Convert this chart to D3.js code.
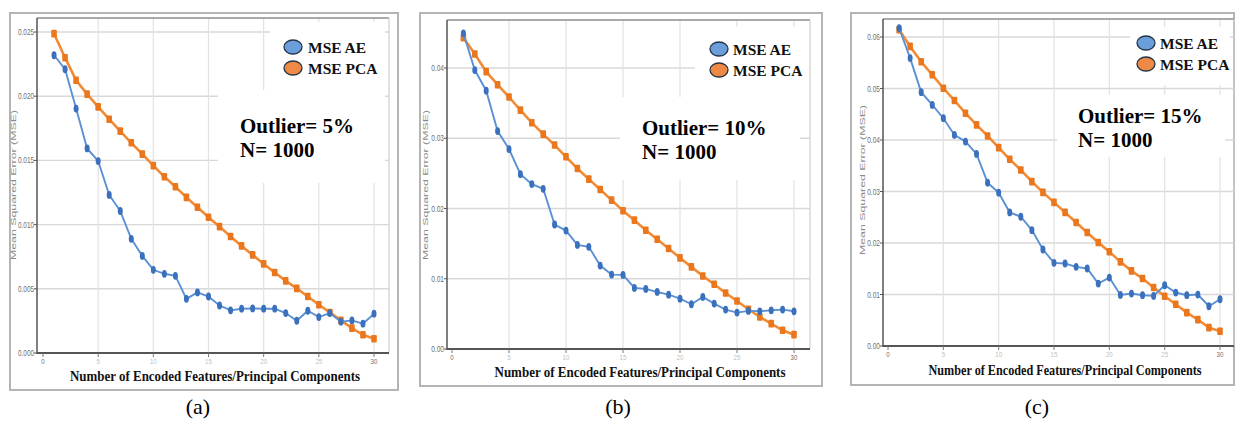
<!DOCTYPE html>
<html lang="en">
<head>
<meta charset="UTF-8">
<title>MSE AE vs MSE PCA</title>
<style>
    body { margin: 0; padding: 0; background: #fff; }
    svg { display: block; }
    .tick-label { font-family: "Liberation Sans", Arial, sans-serif; font-size: 9px; fill: #6f6f6f; }
    .x-tick-label { font-family: "Liberation Sans", Arial, sans-serif; font-size: 8px; }
    .y-title { font-family: "Liberation Sans", Arial, sans-serif; font-size: 8px; fill: #8a8a8a; }
    .x-title { font-family: "Liberation Serif", "Times New Roman", serif; font-weight: bold; font-size: 13px; fill: #111; }
    .legend-text { font-family: "Liberation Serif", "Times New Roman", serif; font-weight: bold; font-size: 15.5px; fill: #111; }
    .note { font-family: "Liberation Serif", "Times New Roman", serif; font-weight: bold; font-size: 21px; fill: #000; }
    .caption { font-family: "Liberation Serif", "Times New Roman", serif; font-size: 22px; fill: #000; }
</style>
</head>
<body>
<svg id="chart" width="1236" height="421"></svg>
<script src="https://d3js.org/d3.v7.min.js"></script>
<script>
// number of encoded features / principal components
var components = [1, 2, 3, 4, 5, 6, 7, 8, 9, 10, 11, 12, 13, 14, 15,
                  16, 17, 18, 19, 20, 21, 22, 23, 24, 25, 26, 27, 28, 29, 30];
var xTicks = [0, 5, 10, 15, 20, 25, 30];

// (a) outlier 5%
var aeA = [0.02319, 0.02210, 0.01904, 0.01593, 0.01495, 0.01231, 0.01106, 0.00889, 0.00756, 0.00648,
           0.00617, 0.00601, 0.00422, 0.00472, 0.00440, 0.00370, 0.00332, 0.00345, 0.00347, 0.00345,
           0.00345, 0.00311, 0.00251, 0.00329, 0.00280, 0.00311, 0.00244, 0.00254, 0.00228, 0.00306];
var pcaA = [0.02487, 0.02300, 0.02124, 0.02016, 0.01917, 0.01821, 0.01728, 0.01637, 0.01549, 0.01459,
            0.01373, 0.01295, 0.01212, 0.01135, 0.01057, 0.00984, 0.00907, 0.00834, 0.00764, 0.00694,
            0.00627, 0.00562, 0.00503, 0.00440, 0.00376, 0.00316, 0.00254, 0.00194, 0.00142, 0.00111];
var yTicksA = [0, 0.005, 0.010, 0.015, 0.020, 0.025];
var yLabelsA = ["0.000", "0.005", "0.010", "0.015", "0.020", "0.025"];

// (b) outlier 10%
var aeB = [0.04494, 0.03971, 0.03677, 0.03102, 0.02846, 0.02489, 0.02347, 0.02280, 0.01772, 0.01686,
           0.01482, 0.01454, 0.01188, 0.01059, 0.01055, 0.00869, 0.00855, 0.00812, 0.00774, 0.00717,
           0.00637, 0.00741, 0.00646, 0.00561, 0.00518, 0.00542, 0.00537, 0.00551, 0.00561, 0.00537];
var pcaB = [0.04432, 0.04200, 0.03948, 0.03762, 0.03587, 0.03401, 0.03221, 0.03059, 0.02903, 0.02736,
            0.02570, 0.02418, 0.02271, 0.02119, 0.01967, 0.01834, 0.01691, 0.01563, 0.01430, 0.01297,
            0.01169, 0.01040, 0.00922, 0.00798, 0.00684, 0.00565, 0.00456, 0.00361, 0.00266, 0.00204];
var yTicksB = [0, 0.01, 0.02, 0.03, 0.04];
var yLabelsB = ["0.00", "0.01", "0.02", "0.03", "0.04"];

// (c) outlier 15%
var aeC = [0.06174, 0.05590, 0.04929, 0.04682, 0.04423, 0.04099, 0.03969, 0.03729, 0.03171, 0.02977,
           0.02594, 0.02510, 0.02250, 0.01874, 0.01615, 0.01602, 0.01537, 0.01505, 0.01213, 0.01329,
           0.00992, 0.01018, 0.00986, 0.00973, 0.01180, 0.01038, 0.00986, 0.00999, 0.00772, 0.00908];
var pcaC = [0.06141, 0.05817, 0.05519, 0.05266, 0.05006, 0.04767, 0.04520, 0.04293, 0.04079, 0.03852,
            0.03625, 0.03418, 0.03191, 0.02983, 0.02789, 0.02594, 0.02399, 0.02205, 0.02010, 0.01829,
            0.01634, 0.01459, 0.01310, 0.01135, 0.00966, 0.00811, 0.00649, 0.00512, 0.00357, 0.00285];
var yTicksC = [0, 0.01, 0.02, 0.03, 0.04, 0.05, 0.06];
var yLabelsC = ["0.00", "0.01", "0.02", "0.03", "0.04", "0.05", "0.06"];

var seriesNames = ["MSE AE", "MSE PCA"];
var notes = ["Outlier= 5%", "Outlier= 10%", "Outlier= 15%"];
var captions = ["(a)", "(b)", "(c)"];

var blueLine = "#5b91d4", blueMark = "#3a70bc", blueFill = "#6b9fdb";
var orangeLine = "#f28b34", orangeMark = "#ea771e", orangeFill = "#ee8a45";

// layout of each sub-figure (pixels)
var panels = [
    { ae: aeA, pca: pcaA, yTicks: yTicksA, yLabels: yLabelsA, yMax: 0.025, note: notes[0], caption: captions[0],
      frame: [10, 13, 398, 390], plot: [37, 18, 389, 353], xr: [43, 374], yr: [353, 32],
      yTitleX: 13, yTitleY: 185, tickLabelY: 364, xTitle: [215, 381, 290],
      legend: [293, 47, 308], noteXY: [240, 133], capX: 198,
      boxes: [[270, 22, 115, 68], [218, 90, 167, 93]] },
    { ae: aeB, pca: pcaB, yTicks: yTicksB, yLabels: yLabelsB, yMax: 0.04, note: notes[1], caption: captions[1],
      frame: [420, 13, 822, 386], plot: [447, 20, 810, 349], xr: [452, 794], yr: [349, 68],
      yTitleX: 425, yTitleY: 185, tickLabelY: 360, xTitle: [640, 377, 291],
      legend: [719, 49, 733], noteXY: [642, 135], capX: 618,
      boxes: [[695, 27, 114, 70], [620, 97, 180, 83]] },
    { ae: aeC, pca: pcaC, yTicks: yTicksC, yLabels: yLabelsC, yMax: 0.06, note: notes[2], caption: captions[2],
      frame: [851, 13, 1234, 385], plot: [883, 19, 1234, 346], xr: [888, 1220], yr: [346, 37],
      yTitleX: 862, yTitleY: 180, tickLabelY: 357, xTitle: [1065, 375, 273],
      legend: [1146, 43, 1160], noteXY: [1078, 123], capX: 1037,
      boxes: [[1130, 27, 100, 58], [1057, 95, 168, 62]] }
];

var svg = d3.select("#chart");

panels.forEach(function (p) {
    var g = svg.append("g");
    var x = d3.scaleLinear().domain([0, 30]).range(p.xr);
    var y = d3.scaleLinear().domain([0, p.yMax]).range(p.yr);
    var L = p.plot[0], T = p.plot[1], R = p.plot[2], B = p.plot[3];

    // outer frame
    g.append("rect")
        .attr("x", p.frame[0]).attr("y", p.frame[1])
        .attr("width", p.frame[2] - p.frame[0]).attr("height", p.frame[3] - p.frame[1])
        .attr("fill", "#fff").attr("stroke", "#b4b4b4").attr("stroke-width", 2);

    // grid
    g.selectAll(".hgrid").data(p.yTicks.slice(1)).enter().append("line")
        .attr("x1", L).attr("x2", R)
        .attr("y1", function (d) { return y(d); }).attr("y2", function (d) { return y(d); })
        .attr("stroke", "#d8d8d8").attr("stroke-width", 1.4);
    g.selectAll(".vgrid").data(xTicks.slice(1)).enter().append("line")
        .attr("y1", T).attr("y2", B)
        .attr("x1", function (d) { return x(d); }).attr("x2", function (d) { return x(d); })
        .attr("stroke", "#e2e2e2").attr("stroke-width", 1.2);

    // plot border top / right
    g.append("line").attr("x1", L).attr("x2", R).attr("y1", T).attr("y2", T)
        .attr("stroke", "#8c8c8c").attr("stroke-width", 1.5);
    g.append("line").attr("x1", R).attr("x2", R).attr("y1", T).attr("y2", B)
        .attr("stroke", "#cfcfcf").attr("stroke-width", 1.2);

    // white boxes behind legend and note
    p.boxes.forEach(function (b) {
        g.append("rect").attr("x", b[0]).attr("y", b[1]).attr("width", b[2]).attr("height", b[3])
            .attr("fill", "#fff");
    });

    // axes
    g.append("line").attr("x1", L).attr("x2", L).attr("y1", T).attr("y2", B + 1)
        .attr("stroke", "#555").attr("stroke-width", 1.5);
    g.append("line").attr("x1", L).attr("x2", R).attr("y1", B).attr("y2", B)
        .attr("stroke", "#555").attr("stroke-width", 1.8);

    g.selectAll(".ytick").data(p.yTicks).enter().append("line")
        .attr("x1", L - 3).attr("x2", L)
        .attr("y1", function (d) { return y(d); }).attr("y2", function (d) { return y(d); })
        .attr("stroke", "#555");
    g.selectAll(".ylab").data(p.yTicks).enter().append("text")
        .attr("class", "tick-label")
        .attr("x", L - 3).attr("y", function (d) { return y(d) + 3; })
        .attr("text-anchor", "end")
        .attr("textLength", function (d, i) { return p.yLabels[i].length * 3.2; })
        .attr("lengthAdjust", "spacingAndGlyphs")
        .text(function (d, i) { return p.yLabels[i]; });

    g.selectAll(".xtick").data(xTicks).enter().append("line")
        .attr("x1", function (d) { return x(d); }).attr("x2", function (d) { return x(d); })
        .attr("y1", B).attr("y2", B + 4)
        .attr("stroke", "#777");
    g.selectAll(".xlab").data(xTicks).enter().append("text")
        .attr("class", "x-tick-label")
        .attr("x", function (d) { return x(d); }).attr("y", p.tickLabelY)
        .attr("text-anchor", "middle")
        .style("fill", function (d) { return (d === 0 || d === 30) ? "#6f6f6f" : "#c0c0c0"; })
        .attr("textLength", function (d) { return String(d).length * 3.4; })
        .attr("lengthAdjust", "spacingAndGlyphs")
        .text(function (d) { return d; });

    // axis titles
    g.append("text").attr("class", "y-title")
        .attr("transform", "translate(" + p.yTitleX + "," + p.yTitleY + ") rotate(-90)")
        .attr("text-anchor", "middle").attr("dy", "0.35em")
        .attr("textLength", 150).attr("lengthAdjust", "spacingAndGlyphs")
        .text("Mean Squared Error (MSE)");
    g.append("text").attr("class", "x-title")
        .attr("transform", "translate(" + p.xTitle[0] + "," + p.xTitle[1] + ") scale(1,1.2)")
        .attr("text-anchor", "middle")
        .attr("textLength", p.xTitle[2]).attr("lengthAdjust", "spacingAndGlyphs")
        .text("Number of Encoded Features/Principal Components");

    // series
    var line = d3.line()
        .x(function (d, i) { return x(components[i]); })
        .y(function (d) { return y(d); });

    g.append("path").datum(p.pca).attr("d", line)
        .attr("fill", "none").attr("stroke", orangeLine).attr("stroke-width", 2.6);
    g.selectAll(".pca-pt").data(p.pca).enter().append("rect")
        .attr("x", function (d, i) { return x(components[i]) - 2.8; })
        .attr("y", function (d) { return y(d) - 3.8; })
        .attr("width", 5.6).attr("height", 7.6).attr("rx", 1)
        .attr("fill", orangeMark);

    g.append("path").datum(p.ae).attr("d", line)
        .attr("fill", "none").attr("stroke", blueLine).attr("stroke-width", 1.9);
    g.selectAll(".ae-pt").data(p.ae).enter().append("ellipse")
        .attr("cx", function (d, i) { return x(components[i]); })
        .attr("cy", function (d) { return y(d); })
        .attr("rx", 2.5).attr("ry", 3.9)
        .attr("fill", blueMark);

    // legend
    [blueFill, orangeFill].forEach(function (c, i) {
        var cy = p.legend[1] + i * 21;
        g.append("ellipse").attr("cx", p.legend[0]).attr("cy", cy)
            .attr("rx", 9).attr("ry", 7)
            .attr("fill", c).attr("stroke", "#233447").attr("stroke-width", 1.3);
        g.append("text").attr("class", "legend-text")
            .attr("x", p.legend[2]).attr("y", cy + 5.5)
            .text(seriesNames[i]);
    });

    // annotation
    g.append("text").attr("class", "note")
        .attr("x", p.noteXY[0]).attr("y", p.noteXY[1]).text(p.note);
    g.append("text").attr("class", "note")
        .attr("x", p.noteXY[0]).attr("y", p.noteXY[1] + 24).text("N= 1000");

    // caption
    svg.append("text").attr("class", "caption")
        .attr("x", p.capX).attr("y", 414)
        .attr("text-anchor", "middle").text(p.caption);
});
</script>
</body>
</html>
